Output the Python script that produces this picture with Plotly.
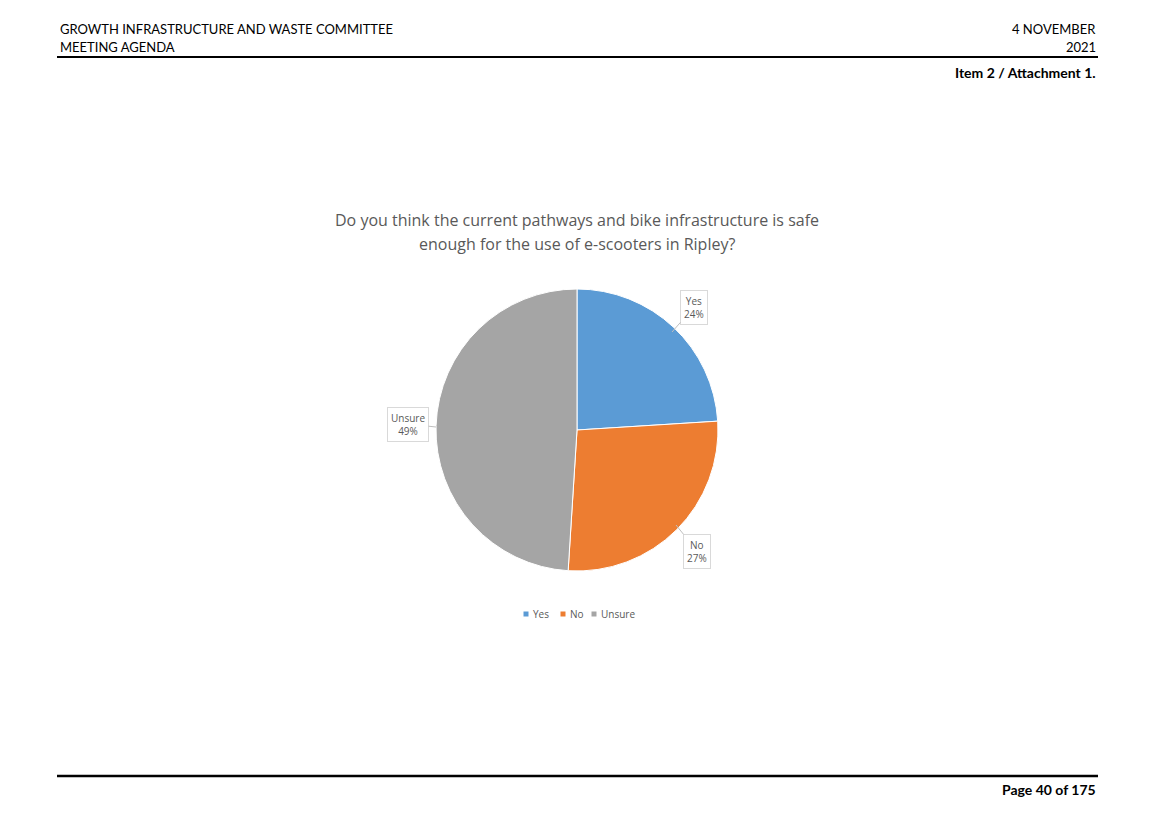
import plotly.graph_objects as go

W, H = 1155, 816
categories = ["Yes", "No", "Unsure"]
values = [24, 27, 49]
colors = ["#5B9BD5", "#ED7D31", "#A5A5A5"]
title_lines = ["Do you think the current pathways and bike infrastructure is safe",
               "enough for the use of e-scooters in Ripley?"]

def px(x):
    return x / W

def py(y):
    return 1 - y / H

cx, cy, r = 577, 430, 141

fig = go.Figure()
fig.add_trace(go.Pie(
    labels=categories, values=values, sort=False, direction="clockwise",
    rotation=0, marker=dict(colors=colors, line=dict(color="white", width=1)),
    textinfo="none", hoverinfo="label+percent", showlegend=False,
    domain=dict(x=[px(cx - r), px(cx + r)], y=[py(cy + r), py(cy - r)]),
))

anns = []
hdr_font = dict(family="Lato, Carlito, Liberation Sans", size=13, color="black")
bold_font = dict(family="Lato, Carlito, Liberation Sans", size=14, color="black")
anns += [
    dict(x=px(58), y=py(29), text="GROWTH INFRASTRUCTURE AND WASTE COMMITTEE", xanchor="left", yanchor="middle", font=hdr_font),
    dict(x=px(58), y=py(47), text="MEETING AGENDA", xanchor="left", yanchor="middle", font=hdr_font),
    dict(x=px(1098), y=py(29), text="4 NOVEMBER", xanchor="right", yanchor="middle", font=hdr_font),
    dict(x=px(1098), y=py(47), text="2021", xanchor="right", yanchor="middle", font=hdr_font),
    dict(x=px(1098), y=py(72), text="<b>Item 2 / Attachment 1.</b>", xanchor="right", yanchor="middle", font=bold_font),
    dict(x=px(1098), y=py(789), text="<b>Page 40 of 175</b>", xanchor="right", yanchor="middle", font=bold_font),
]
title_font = dict(family="Open Sans, Noto Sans", size=16, color="#595959")
anns += [
    dict(x=px(577), y=py(220), text=title_lines[0], xanchor="center", yanchor="middle", font=title_font),
    dict(x=px(577), y=py(244), text=title_lines[1], xanchor="center", yanchor="middle", font=title_font),
]
# data callouts
lab_font = dict(family="Open Sans, Noto Sans", size=10, color="#595959")
callouts = [
    (0, 672, 332, 694, 307),
    (1, 676, 525, 697, 551),
    (2, 436, 427, 408, 424),
]
for i, ex, ey, tx, ty in callouts:
    anns.append(dict(
        x=px(ex), y=py(ey), xref="paper", yref="paper",
        text=f"{categories[i]}<br>{values[i]}%", showarrow=True, arrowhead=0,
        arrowwidth=1, arrowcolor="#BFBFBF", ax=tx - ex, ay=ty - ey,
        font=lab_font, bordercolor="#D9D9D9", borderwidth=1, borderpad=3,
        bgcolor="white", align="center",
    ))

# legend drawn as small squares + labels
leg_font = dict(family="Open Sans, Noto Sans", size=10, color="#595959")
leg_x = [526, 563, 594]
shapes = []
for i, lx in enumerate(leg_x):
    shapes.append(dict(type="rect", xref="paper", yref="paper",
                       x0=px(lx - 2.5), x1=px(lx + 2.5), y0=py(614 + 2.5), y1=py(614 - 2.5),
                       fillcolor=colors[i], line=dict(width=0)))
    anns.append(dict(x=px(lx + 5), y=py(614), text=categories[i], xanchor="left",
                     yanchor="middle", font=leg_font))

for a in anns:
    a.setdefault("xref", "paper")
    a.setdefault("yref", "paper")
    a.setdefault("showarrow", False)

shapes += [
    dict(type="line", xref="paper", yref="paper", x0=px(57), x1=px(1098), y0=py(57), y1=py(57),
         line=dict(color="black", width=2)),
    dict(type="line", xref="paper", yref="paper", x0=px(57), x1=px(1098), y0=py(776), y1=py(776),
         line=dict(color="black", width=2.5)),
]

fig.update_layout(
    width=W, height=H, margin=dict(l=0, r=0, t=0, b=0),
    paper_bgcolor="white", plot_bgcolor="white",
    annotations=anns, shapes=shapes,
    showlegend=False,
)
fig.write_html("out.html")
